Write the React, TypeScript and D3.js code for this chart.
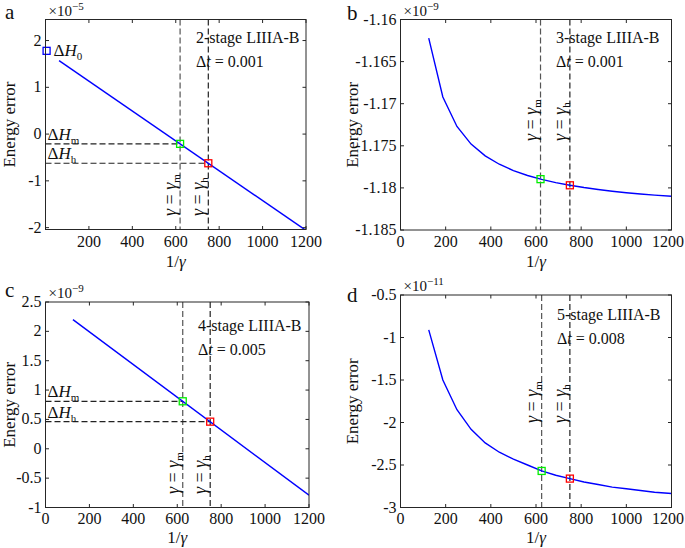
import React from 'react';
import * as d3 from 'd3';

const SERIF = 'Liberation Serif, Times New Roman, Times, serif';

// ---------- data (values in units of each panel's exponent) ----------
// panel a : 2-stage LIIIA-B, Δt = 0.001, ×10^-5
const aInvGamma = [62.5, 1200];
const aEnergy = [1.57, -2.06];
const aH0 = [5, 1.78];
const aMarkX = [620, 750];
const aMarkY = [-0.209, -0.624];
const aYTicks = [-2, -1, 0, 1, 2];
const aYLabels = ['-2', '-1', '0', '1', '2'];
const aXTicks = [200, 400, 600, 800, 1000, 1200];

// panel b : 3-stage LIIIA-B, Δt = 0.001, ×10^-9
const bInvGamma = [125, 187.5, 250, 312.5, 375, 437.5, 500, 562.5, 625, 687.5, 750, 812.5, 875, 937.5, 1000, 1062.5, 1125, 1200];
const bEnergy = [-1.16221, -1.1692, -1.1727, -1.1748, -1.1762, -1.17719, -1.17794, -1.17853, -1.17899, -1.17937, -1.17969, -1.17996, -1.18019, -1.18039, -1.18057, -1.18072, -1.18086, -1.181];
const bMarkX = [620, 750];
const bMarkY = [-1.17896, -1.17969];
const bYTicks = [-1.185, -1.18, -1.175, -1.17, -1.165, -1.16];
const bYLabels = ['-1.185', '-1.18', '-1.175', '-1.17', '-1.165', '-1.16'];

// panel c : 4-stage LIIIA-B, Δt = 0.005, ×10^-9
const cInvGamma = [125, 1200];
const cEnergy = [2.2, -0.79];
const cMarkX = [625, 750];
const cMarkY = [0.809, 0.462];
const cYTicks = [-1, -0.5, 0, 0.5, 1, 1.5, 2, 2.5];
const cYLabels = ['-1', '-0.5', '0', '0.5', '1', '1.5', '2', '2.5'];

// panel d : 5-stage LIIIA-B, Δt = 0.008, ×10^-11
const dInvGamma = [125, 187.5, 250, 312.5, 375, 437.5, 500, 562.5, 625, 687.5, 750, 812.5, 875, 937.5, 1000, 1062.5, 1125, 1200];
const dEnergy = [-0.91, -1.5, -1.85, -2.08, -2.24, -2.35, -2.43, -2.5, -2.57, -2.62, -2.66, -2.7, -2.73, -2.76, -2.78, -2.8, -2.82, -2.835];
const dMarkX = [625, 750];
const dMarkY = [-2.57, -2.66];
const dYTicks = [-3, -2.5, -2, -1.5, -1, -0.5];
const dYLabels = ['-3', '-2.5', '-2', '-1.5', '-1', '-0.5'];

const fullXTicks = [0, 200, 400, 600, 800, 1000, 1200];

type PanelProps = {
  id: string;
  letter: string;
  letterPos: [number, number];
  box: { l: number; t: number; r: number; b: number };
  yDomain: [number, number];
  yTicks: number[];
  yLabels: string[];
  xTicks: number[];
  exp: string;
  xs: number[];
  ys: number[];
  markX: number[];
  markY: number[];
  showH: boolean;
  h0?: number[];
  title: string;
  dt: string;
  titlePos: [number, number];
  gammaBottom: number;
  yLabelX: number;
  xTickDy: number;
  xLabelDy: number;
};

const Sub = ({ children, dy = 4, size = 11 }: { children: React.ReactNode; dy?: number; size?: number }) => (
  <tspan fontSize={size} dy={dy} fontStyle="normal">{children}</tspan>
);

function Panel(p: PanelProps) {
  const { l, t, r, b } = p.box;
  const x = d3.scaleLinear().domain([0, 1200]).range([l, r]);
  const y = d3.scaleLinear().domain(p.yDomain).range([b, t]);
  const line = d3.line<number>().x((_, i) => x(p.xs[i])).y((v) => y(v));
  const tickLen = 3.5;
  const axisColor = '#262626';
  const clipId = `clip-${p.id}`;
  const [gm, gh] = p.markX;
  const [hm, hh] = p.markY;
  const sq = 7;
  return (
    <g style={{ fontFamily: SERIF }}>
      <defs>
        <clipPath id={clipId}>
          <rect x={l} y={t} width={r - l} height={b - t} />
        </clipPath>
      </defs>
      {/* dashed guides */}
      <line x1={x(gm)} x2={x(gm)} y1={t} y2={b} stroke="#555" strokeWidth={1.2} strokeDasharray="6,3" />
      <line x1={x(gh)} x2={x(gh)} y1={t} y2={b} stroke="#222" strokeWidth={1.2} strokeDasharray="6,3" />
      {p.showH && (
        <>
          <line x1={l} x2={x(gm)} y1={y(hm)} y2={y(hm)} stroke="#222" strokeWidth={1.2} strokeDasharray="6,3" />
          <line x1={l} x2={x(gh)} y1={y(hh)} y2={y(hh)} stroke="#222" strokeWidth={1.2} strokeDasharray="6,3" />
        </>
      )}
      {/* curve */}
      <path d={line(p.ys) || ''} fill="none" stroke="#0000ff" strokeWidth={1.4} clipPath={`url(#${clipId})`} />
      {/* markers */}
      <rect x={x(gm) - sq / 2} y={y(hm) - sq / 2} width={sq} height={sq} fill="none" stroke="#00ee00" strokeWidth={1.3} />
      <rect x={x(gh) - sq / 2} y={y(hh) - sq / 2} width={sq} height={sq} fill="none" stroke="#ff0000" strokeWidth={1.3} />
      {p.h0 && (
        <rect x={x(p.h0[0]) - sq / 2} y={y(p.h0[1]) - sq / 2} width={sq} height={sq} fill="none" stroke="#0000ff" strokeWidth={1.3} />
      )}
      {/* axes box */}
      <rect x={l} y={t} width={r - l} height={b - t} fill="none" stroke={axisColor} strokeWidth={1} />
      {p.xTicks.map((v) => (
        <g key={`xt${v}`}>
          <line x1={x(v)} x2={x(v)} y1={b} y2={b - tickLen} stroke={axisColor} />
          <line x1={x(v)} x2={x(v)} y1={t} y2={t + tickLen} stroke={axisColor} />
          <text x={Math.min(x(v), 668)} y={b + p.xTickDy} fontSize={16} textAnchor="middle" fill="#111">{v}</text>
        </g>
      ))}
      {p.yTicks.map((v, i) => (
        <g key={`yt${v}`}>
          <line x1={l} x2={l + tickLen} y1={y(v)} y2={y(v)} stroke={axisColor} />
          <line x1={r} x2={r - tickLen} y1={y(v)} y2={y(v)} stroke={axisColor} />
          <text x={l - 4} y={y(v) + 5} fontSize={16} textAnchor="end" fill="#111">{p.yLabels[i]}</text>
        </g>
      ))}
      {/* exponent */}
      <text x={l + 3} y={t - 4} fontSize={15} fill="#111">
        ×10<tspan fontSize={11} dy={-6}>{p.exp}</tspan>
      </text>
      {/* axis labels */}
      <text x={(l + r) / 2} y={b + p.xLabelDy} fontSize={17} textAnchor="middle" fill="#111">
        1/<tspan fontStyle="italic">γ</tspan>
      </text>
      <text transform={`translate(${p.yLabelX},${(t + b) / 2}) rotate(-90)`} fontSize={17} textAnchor="middle" fill="#111">
        Energy error
      </text>
      {/* panel letter */}
      <text x={p.letterPos[0]} y={p.letterPos[1]} fontSize={21} fill="#111">{p.letter}</text>
      {/* title */}
      <text x={p.titlePos[0]} y={p.titlePos[1]} fontSize={16} fill="#111">{p.title}</text>
      <text x={p.titlePos[0]} y={p.titlePos[1] + 24} fontSize={16} fill="#111">
        Δ<tspan fontStyle="italic">t</tspan> = {p.dt}
      </text>
      {/* gamma labels */}
      <text transform={`translate(${x(gm) - 4},${p.gammaBottom}) rotate(-90)`} fontSize={18} fill="#111">
        <tspan fontStyle="italic">γ</tspan> = <tspan fontStyle="italic">γ</tspan><Sub>m</Sub>
      </text>
      <text transform={`translate(${x(gh) - 4},${p.gammaBottom}) rotate(-90)`} fontSize={18} fill="#111">
        <tspan fontStyle="italic">γ</tspan> = <tspan fontStyle="italic">γ</tspan><Sub>h</Sub>
      </text>
      {/* ΔH labels */}
      {p.showH && (
        <>
          <text x={l + 2} y={y(hm) - 4} fontSize={17} fill="#111">
            Δ<tspan fontStyle="italic">H</tspan><Sub>m</Sub>
          </text>
          <text x={l + 2} y={y(hh) - 4} fontSize={17} fill="#111">
            Δ<tspan fontStyle="italic">H</tspan><Sub>h</Sub>
          </text>
        </>
      )}
      {p.h0 && (
        <text x={x(p.h0[0]) + 7} y={y(p.h0[1]) + 5} fontSize={17} fill="#111">
          Δ<tspan fontStyle="italic">H</tspan><Sub>0</Sub>
        </text>
      )}
    </g>
  );
}

export default function App() {
  return (
    <svg width={685} height={548} style={{ display: 'block', position: 'absolute', left: 0, top: 0, background: '#fff' }}>
      <rect width={685} height={548} fill="#fff" />
      <Panel id="a" letter="a" letterPos={[5, 19]} box={{ l: 45.5, t: 19.5, r: 306, b: 229.5 }} yDomain={[-2.04, 2.45]}
        yTicks={aYTicks} yLabels={aYLabels} xTicks={aXTicks} exp="−5"
        xs={aInvGamma} ys={aEnergy} markX={aMarkX} markY={aMarkY} showH h0={aH0}
        title="2-stage LIIIA-B" dt="0.001" titlePos={[196, 43]} gammaBottom={216} yLabelX={15}
        xTickDy={17} xLabelDy={37} />
      <Panel id="b" letter="b" letterPos={[347, 20]} box={{ l: 400.5, t: 19.5, r: 671.5, b: 230 }} yDomain={[-1.185, -1.16]}
        yTicks={bYTicks} yLabels={bYLabels} xTicks={fullXTicks} exp="−9"
        xs={bInvGamma} ys={bEnergy} markX={bMarkX} markY={bMarkY} showH={false}
        title="3-stage LIIIA-B" dt="0.001" titlePos={[556, 43]} gammaBottom={141} yLabelX={358}
        xTickDy={17} xLabelDy={37} />
      <Panel id="c" letter="c" letterPos={[5, 297]} box={{ l: 45.5, t: 302, r: 309, b: 507.5 }} yDomain={[-1, 2.5]}
        yTicks={cYTicks} yLabels={cYLabels} xTicks={fullXTicks} exp="−9"
        xs={cInvGamma} ys={cEnergy} markX={cMarkX} markY={cMarkY} showH
        title="4-stage LIIIA-B" dt="0.005" titlePos={[198, 331]} gammaBottom={494} yLabelX={15}
        xTickDy={16} xLabelDy={35} />
      <Panel id="d" letter="d" letterPos={[347, 302]} box={{ l: 400.5, t: 295, r: 671.5, b: 507.5 }} yDomain={[-3, -0.5]}
        yTicks={dYTicks} yLabels={dYLabels} xTicks={fullXTicks} exp="−11"
        xs={dInvGamma} ys={dEnergy} markX={dMarkX} markY={dMarkY} showH={false}
        title="5-stage LIIIA-B" dt="0.008" titlePos={[557, 320]} gammaBottom={423} yLabelX={358}
        xTickDy={16} xLabelDy={35} />
    </svg>
  );
}
